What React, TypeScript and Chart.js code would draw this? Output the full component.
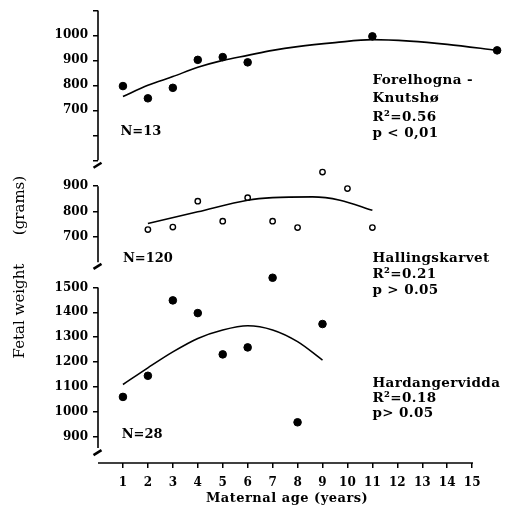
import React, { useEffect, useRef } from "react";
import { Chart, registerables } from "chart.js";
Chart.register(...registerables);

// ---- data ----
const xTickValues = [1, 2, 3, 4, 5, 6, 7, 8, 9, 10, 11, 12, 13, 14, 15];

const topAges = [1, 2, 3, 4, 5, 6, 11, 16];
const topWeights = [797, 748, 790, 902, 913, 892, 996, 940];
const topCurveAges = [1, 2, 3, 4, 5, 6, 7, 8, 9.5, 11, 12.5, 14, 16];
const topCurveWeights = [755, 800, 835, 872, 900, 920, 940, 955, 971, 983, 977, 964, 940];
const topTicks = [500, 600, 700, 800, 900, 1000, 1100];
const topLabels = [700, 800, 900, 1000];

const midAges = [2, 3, 4, 5, 6, 7, 8, 9, 10, 11];
const midWeights = [729, 739, 841, 762, 855, 762, 737, 956, 891, 737];
const midCurveAges = [2, 4, 6, 7, 8.6, 9.7, 11];
const midCurveWeights = [753, 799, 845, 855, 858, 845, 805];
const midTicks = [700, 800, 900];

const botAges = [1, 2, 3, 4, 5, 6, 7, 8, 9];
const botWeights = [1060, 1145, 1448, 1397, 1231, 1259, 1539, 958, 1353];
const botCurveAges = [1, 2, 3, 4, 5, 6, 7, 8, 9];
const botCurveWeights = [1110, 1177, 1241, 1295, 1329, 1346, 1329, 1282, 1208];
const botTicks = [900, 1000, 1100, 1200, 1300, 1400, 1500];

const topNote = ["Forelhogna -", "Knutshø", "R²=0.56", "p < 0,01"];
const midNote = ["Hallingskarvet", "R²=0.21", "p > 0.05"];
const botNote = ["Hardangervidda", "R²=0.18", "p> 0.05"];
const topN = "N=13";
const midN = "N=120";
const botN = "N=28";
const yTitleA = "Fetal weight";
const yTitleB = "(grams)";
const xTitle = "Maternal age (years)";

const FAMILY = "'DejaVu Serif', serif";

const pts = (xs: number[], ys: number[]) => xs.map((x, i) => ({ x, y: ys[i] }));

const tickFont = { family: FAMILY, size: 12, weight: "bold" as const };

function yScale(min: number, max: number, ticks: number[], labels: number[], weight: number, stackWeight: number) {
  return {
    type: "linear" as const,
    position: "left" as const,
    stack: "panels",
    stackWeight,
    weight,
    min,
    max,
    afterBuildTicks: (s: any) => {
      s.ticks = ticks.map((v) => ({ value: v }));
    },
    afterFit: (s: any) => {
      s.width = 98;
      s.paddingTop = 0;
      s.paddingBottom = 0;
    },
    ticks: {
      color: "#000",
      font: tickFont,
      padding: 5,
      autoSkip: false,
      callback: (v: any) => (labels.includes(Number(v)) ? String(v) : ""),
    },
    grid: {
      drawOnChartArea: false,
      drawTicks: true,
      tickLength: 5,
      color: "#000",
      lineWidth: 1.5,
    },
    border: { display: false },
  };
}

const decorPlugin = {
  id: "decor",
  afterDraw(chart: any) {
    const ctx = chart.ctx as CanvasRenderingContext2D;
    const { x, yTop, yMid, yBot } = chart.scales;
    const ax = chart.chartArea.left;
    const bottom = chart.chartArea.bottom;
    ctx.save();
    ctx.strokeStyle = "#000";
    ctx.fillStyle = "#000";
    ctx.lineCap = "butt";
    const line = (x1: number, y1: number, x2: number, y2: number) => {
      ctx.beginPath();
      ctx.moveTo(x1, y1);
      ctx.lineTo(x2, y2);
      ctx.stroke();
    };
    // axis lines of the three panels
    ctx.lineWidth = 1.6;
    line(ax, yTop.getPixelForValue(1100), ax, yTop.getPixelForValue(500));
    line(ax, yMid.getPixelForValue(900), ax, yMid.getPixelForValue(600));
    line(ax, yBot.getPixelForValue(1500), ax, yBot.getPixelForValue(855));
    // x axis line from 0 to 15
    line(x.getPixelForValue(0), bottom, x.getPixelForValue(15) + 0.8, bottom);
    // break marks
    ctx.lineWidth = 2.6;
    const breaks = [yTop.getPixelForValue(480), yMid.getPixelForValue(584), yBot.getPixelForValue(836)];
    breaks.forEach((by) => line(ax - 4.5, by + 2.5, ax + 3.5, by - 2.5));

    // notes
    ctx.font = `bold 13.5px ${FAMILY}`;
    (ctx as any).letterSpacing = "0.4px";
    ctx.textAlign = "left";
    ctx.textBaseline = "alphabetic";
    const nx = x.getPixelForValue(11);
    const topBase = [807, 733, 657, 593];
    topNote.forEach((t, i) => ctx.fillText(t, nx, yTop.getPixelForValue(topBase[i])));
    const midBase = [601, 537, 474];
    midNote.forEach((t, i) => ctx.fillText(t, nx, yMid.getPixelForValue(midBase[i])));
    const botBase = [1098, 1041, 980];
    botNote.forEach((t, i) => ctx.fillText(t, nx, yBot.getPixelForValue(botBase[i])));

    ctx.font = `bold 13px ${FAMILY}`;
    (ctx as any).letterSpacing = "0px";
    ctx.fillText(topN, x.getPixelForValue(0.9), yTop.getPixelForValue(600));
    ctx.fillText(midN, x.getPixelForValue(1.0), yMid.getPixelForValue(601));
    ctx.fillText(botN, x.getPixelForValue(0.95), yBot.getPixelForValue(895));

    // x title
    (ctx as any).letterSpacing = "0.5px";
    ctx.textAlign = "center";
    ctx.fillText(xTitle, (x.getPixelForValue(0) + x.getPixelForValue(15)) / 2 + 2, 502);

    // y title (rotated)
    (ctx as any).letterSpacing = "0px";
    ctx.font = `15px ${FAMILY}`;
    ctx.save();
    ctx.translate(24, 311);
    ctx.rotate(-Math.PI / 2);
    ctx.fillText(yTitleA, 0, 0);
    ctx.restore();
    ctx.save();
    ctx.translate(24, 205.5);
    ctx.rotate(-Math.PI / 2);
    ctx.fillText(yTitleB, 0, 0);
    ctx.restore();

    ctx.restore();
  },
};

export default function App() {
  const ref = useRef<HTMLCanvasElement | null>(null);
  useEffect(() => {
    if (!ref.current) return;
    const curve = (xs: number[], ys: number[], axis: string) => ({
      data: pts(xs, ys),
      yAxisID: axis,
      showLine: true,
      pointRadius: 0,
      borderColor: "#000",
      borderWidth: 1.6,
      cubicInterpolationMode: "monotone" as const,
      clip: false as any,
    });
    const dots = (xs: number[], ys: number[], axis: string, open = false) => ({
      data: pts(xs, ys),
      yAxisID: axis,
      showLine: false,
      pointRadius: open ? 2.7 : 3.8,
      pointBorderWidth: open ? 1.4 : 1,
      pointBackgroundColor: open ? "#fff" : "#000",
      pointBorderColor: "#000",
      clip: false as any,
    });
    const chart = new Chart(ref.current, {
      type: "scatter",
      data: {
        datasets: [
          curve(topCurveAges, topCurveWeights, "yTop"),
          dots(topAges, topWeights, "yTop"),
          curve(midCurveAges, midCurveWeights, "yMid"),
          dots(midAges, midWeights, "yMid", true),
          curve(botCurveAges, botCurveWeights, "yBot"),
          dots(botAges, botWeights, "yBot"),
        ],
      },
      options: {
        animation: false,
        responsive: false,
        maintainAspectRatio: false,
        layout: { padding: { left: 0, right: 0, top: 5, bottom: 0 } },
        plugins: { legend: { display: false }, tooltip: { enabled: false } },
        scales: {
          x: {
            type: "linear",
            min: 0,
            max: 16.22,
            afterBuildTicks: (s: any) => {
              s.ticks = xTickValues.map((v) => ({ value: v }));
            },
            afterFit: (s: any) => {
              s.height = 54;
              s.paddingLeft = 0;
              s.paddingRight = 0;
            },
            ticks: { color: "#000", font: tickFont, padding: 8, autoSkip: false, maxRotation: 0 },
            grid: { drawOnChartArea: false, drawTicks: true, tickLength: 5, color: "#000", lineWidth: 1.5 },
            border: { display: false },
          },
          yTop: yScale(448, 1120, topTicks, topLabels, 3, 168),
          yMid: yScale(552.9, 951.3, midTicks, midTicks, 2, 101),
          yBot: yScale(794.4, 1553.4, botTicks, botTicks, 1, 189),
        } as any,
      },
      plugins: [decorPlugin],
    });
    return () => chart.destroy();
  }, []);
  return (
    <div style={{ position: "absolute", left: 0, top: 0, width: 508, height: 517, background: "#fff" }}>
      <canvas ref={ref} width={508} height={517} style={{ display: "block" }} />
    </div>
  );
}
